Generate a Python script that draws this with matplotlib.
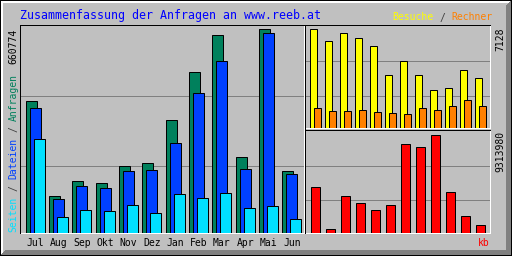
import matplotlib
matplotlib.use("Agg")
import matplotlib.pyplot as plt
import numpy as np
from matplotlib.patches import Polygon, Rectangle
from matplotlib.transforms import IdentityTransform

# ---- data -------------------------------------------------------------
months = ["Jul", "Aug", "Sep", "Okt", "Nov", "Dez", "Jan", "Feb", "Mar", "Apr", "Mai", "Jun"]
hits = [427600, 121000, 169700, 163200, 218500, 228300, 368100, 524200, 641300, 247800, 660774, 202300]
files = [407100, 111200, 153500, 147000, 202300, 205500, 293300, 455900, 560000, 208800, 647800, 192500]
pages = [306300, 52700, 75400, 72200, 91700, 65700, 127500, 114500, 130700, 81900, 88400, 46200]
visits = [7128, 6327, 6909, 6546, 5964, 3855, 4873, 3855, 2764, 2909, 4218, 3636]
sites = [1455, 1236, 1236, 1309, 1164, 1091, 1018, 1455, 1309, 1600, 2036, 1600]
kbytes = [4371900, 380200, 3516500, 2851200, 2186000, 2661200, 8458700, 8173500, 9313980, 3896700, 1615700, 760300]

title = "Zusammenfassung der Anfragen an www.reeb.at"

# ---- style ------------------------------------------------------------
GREY = "#C0C0C0"
DKGREY = "#808080"
C_HITS = "#00805C"
C_FILES = "#0040FF"
C_PAGES = "#00E0FF"
C_VISITS = "#FFFF00"
C_SITES = "#FF8000"
C_KB = "#FF0000"
C_TITLE = "#0000FF"
C_SEP = "#404040"

plt.rcParams["font.family"] = ["DejaVu Sans Mono", "DejaVu Sans"]
W, H = 512, 256
fig = plt.figure(figsize=(W / 100, H / 100), dpi=100, facecolor=GREY)
LW = 0.72  # 1 px
FS = 7
CW = 0.6021 * FS * 100 / 72  # monospace advance in px


def add_axes_px(x0, top, w, h):
    """pixel box with top-based y"""
    ax = fig.add_axes([x0 / W, (H - top - h) / H, w / W, h / H])
    ax.set_facecolor(GREY)
    for s in ax.spines.values():
        s.set_visible(False)
    ax.tick_params(length=0, left=False, labelleft=False)
    return ax


x = np.arange(len(months))

# ---- main panel: hits / files / pages ---------------------------------
ax = add_axes_px(20, 25, 285, 208)
unit = 23.36
xmin = -(35 - 20) / unit
ax.set_xlim(xmin, xmin + 285 / unit)
top = max(hits) * 208 / 203.5
ax.set_ylim(0, top)
for f in (0.322, 0.659):
    ax.axhline(f * top, color=DKGREY, lw=LW, zorder=0.5)
bw = 11 / unit
off = 4 / unit
ax.bar(x - off, hits, bw, color=C_HITS, edgecolor="black", linewidth=LW, zorder=2)
ax.bar(x, files, bw, color=C_FILES, edgecolor="black", linewidth=LW, zorder=3)
ax.bar(x + off, pages, bw, color=C_PAGES, edgecolor="black", linewidth=LW, zorder=4)
ax.set_xticks(x)
ax.set_xticklabels(months, fontsize=FS, color="black")
ax.tick_params(axis="x", pad=9.7, length=0)
for lbl in ax.get_xticklabels():
    lbl.set_verticalalignment("baseline")

# ---- upper right: visits / sites --------------------------------------
ax2 = add_axes_px(305, 25, 186, 103)
ax2.set_xticks([])
u2 = 15.0
xmin2 = -(313 - 305) / u2
ax2.set_xlim(xmin2, xmin2 + 186 / u2)
top2 = max(visits) * 103 / 98.5
ax2.set_ylim(0, top2)
for f in (0.311, 0.650):
    ax2.axhline(f * top2, color=DKGREY, lw=LW, zorder=0.5)
ax2.bar(x, visits, 7 / u2, color=C_VISITS, edgecolor="black", linewidth=LW, zorder=2)
ax2.bar(x + 4 / u2, sites, 7 / u2, color=C_SITES, edgecolor="black", linewidth=LW, zorder=3)

# ---- lower right: kbytes ----------------------------------------------
ax3 = add_axes_px(305, 130, 186, 103)
ax3.set_xticks([])
xmin3 = -(315 - 305) / u2
ax3.set_xlim(xmin3, xmin3 + 186 / u2)
top3 = max(kbytes) * 103 / 98.5
ax3.set_ylim(0, top3)
for f in (0.316, 0.655):
    ax3.axhline(f * top3, color=DKGREY, lw=LW, zorder=0.5)
ax3.bar(x, kbytes, 9 / u2, color=C_KB, edgecolor="black", linewidth=LW, zorder=2)

# ---- frames & bevel (pixel space, top-based rows) ---------------------
ID = IdentityTransform()


def hline(c0, c1, row, color):
    fig.add_artist(Rectangle((c0, H - row - 1), c1 - c0 + 1, 1, transform=ID,
                             facecolor=color, edgecolor="none", antialiased=False, zorder=5))


def vline(col, r0, r1, color):
    fig.add_artist(Rectangle((col, H - r1 - 1), 1, r1 - r0 + 1, transform=ID,
                             facecolor=color, edgecolor="none", antialiased=False, zorder=5))


def poly(pts, color):
    fig.add_artist(Polygon([(px, H - py) for px, py in pts], closed=True, transform=ID,
                           facecolor=color, edgecolor="none", antialiased=False, zorder=5))


# main panel
hline(20, 304, 25, "black"); vline(20, 25, 233, "black")
vline(304, 26, 233, "white"); hline(21, 304, 233, "white")
# right panels
vline(305, 25, 233, "black")
hline(305, 490, 25, "black"); vline(490, 26, 128, "white"); hline(306, 490, 128, "white")
hline(305, 490, 130, "black"); vline(490, 131, 233, "white"); hline(306, 490, 233, "white")

# outer bevel
poly([(1, 1), (511, 1), (508, 3), (3, 3)], "white")
poly([(1, 1), (3, 3), (3, 253), (1, 256)], "white")
poly([(511, 1), (511, 255), (506, 250), (506, 6)], DKGREY)
poly([(1, 255), (511, 255), (506, 250), (6, 250)], DKGREY)
hline(0, 511, 0, "black"); hline(0, 511, 255, "black")
vline(0, 0, 255, "black"); vline(511, 0, 255, "black")


# ---- texts -------------------------------------------------------------
def T(xp, yp, s, **kw):
    fig.text(xp / W, (H - yp) / H, s, **kw)


T(19.5, 19, title, fontsize=8.35, color=C_TITLE, ha="left", va="baseline")

# legend top right: "Besuche / Rechner"
leg = [("Besuche", C_VISITS), ("/", C_SEP), ("Rechner", C_SITES)]
full = "Besuche / Rechner"
pos = 0
for word, col in leg:
    i = full.index(word, pos)
    T(392.5 + i * CW, 20.5, word, fontsize=FS, color=col, ha="left", va="baseline")
    pos = i + len(word)

# left vertical legend: "Seiten / Dateien / Anfragen" (reads bottom to top)
side = [("Seiten", C_PAGES), ("/", C_SEP), ("Dateien", C_FILES), ("/", C_SEP), ("Anfragen", C_HITS)]
fulls = "Seiten / Dateien / Anfragen"
pos = 0
for word, col in side:
    i = fulls.index(word, pos)
    T(13.5, 232 - i * CW, word, fontsize=FS, color=col, rotation=90, ha="center", va="bottom")
    pos = i + len(word)

T(13.5, 29, str(max(hits)), fontsize=FS, color="black", rotation=90, ha="center", va="top")
T(500, 27.5, str(max(visits)), fontsize=FS, color="black", rotation=90, ha="center", va="top")
T(500, 131, str(max(kbytes)), fontsize=FS, color="black", rotation=90, ha="center", va="top")
T(490, 246.5, "kb", fontsize=FS, color=C_KB, ha="right", va="baseline")

fig.savefig("out.png", dpi=100, facecolor=GREY)
